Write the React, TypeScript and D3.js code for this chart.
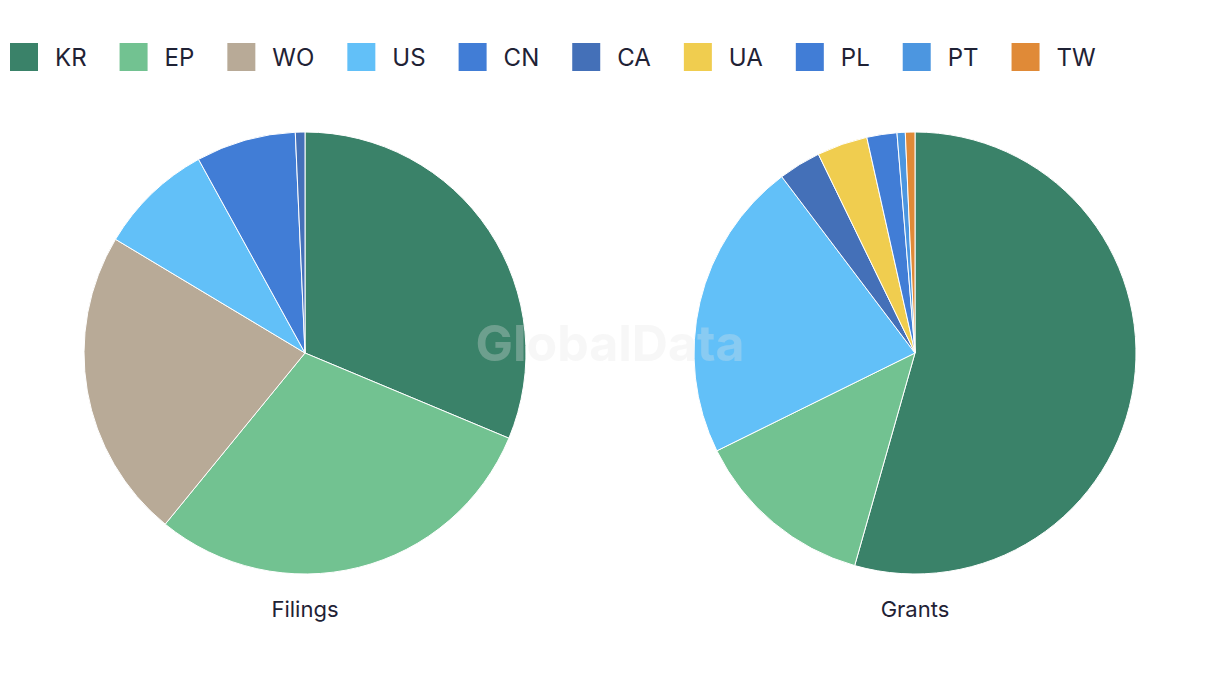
import React, { useEffect, useRef } from "react";
import * as d3 from "d3";

const legendCodes = ["KR", "EP", "WO", "US", "CN", "CA", "UA", "PL", "PT", "TW"];
const legendColors = ["#3a8269", "#72c291", "#b8aa97", "#62c0f8", "#417dd6", "#4470b8", "#f0cd4f", "#417dd6", "#4c96e0", "#e08a37"];

const filingsCodes = ["KR", "EP", "WO", "US", "CN", "CA"];
const filingsValues = [31.3, 29.6, 22.7, 8.4, 7.3, 0.7];

const grantsCodes = ["KR", "EP", "US", "CA", "UA", "PL", "PT", "TW"];
const grantsValues = [54.4, 13.3, 22.0, 3.1, 3.7, 2.2, 0.6, 0.7];

const pieTitles = ["Filings", "Grants"];

export default function App() {
  const ref = useRef<SVGSVGElement>(null);

  useEffect(() => {
    const svg = d3.select(ref.current);
    svg.selectAll("*").remove();
    const color = d3.scaleOrdinal<string, string>().domain(legendCodes).range(legendColors);
    const font = "Inter, Roboto, 'Noto Sans', sans-serif";
    const textColor = "#1f2235";

    // Legend
    const lg = svg.append("g");
    let x = 10;
    legendCodes.forEach((c) => {
      lg.append("rect").attr("x", x).attr("y", 43).attr("width", 28).attr("height", 28).attr("fill", color(c));
      const t = lg.append("text")
        .attr("x", x + 45).attr("y", 66)
        .attr("font-family", font).attr("font-size", 24).attr("fill", textColor)
        .text(c);
      const w = (t.node() as SVGTextElement).getComputedTextLength();
      x = x + 45 + w + 33;
    });

    const radius = 221;
    const pie = d3.pie<number>().sort(null).value((d) => d);
    const arc = d3.arc<d3.PieArcDatum<number>>().innerRadius(0).outerRadius(radius);

    const datasets = [
      { codes: filingsCodes, values: filingsValues, cx: 305 },
      { codes: grantsCodes, values: grantsValues, cx: 915 },
    ];

    datasets.forEach((ds, i) => {
      const g = svg.append("g").attr("transform", `translate(${ds.cx},353)`);
      g.selectAll("path")
        .data(pie(ds.values))
        .enter()
        .append("path")
        .attr("d", arc as any)
        .attr("fill", (_d, j) => color(ds.codes[j]))
        .attr("stroke", "#ffffff")
        .attr("stroke-width", 1);
      svg.append("text")
        .attr("x", ds.cx).attr("y", 617)
        .attr("text-anchor", "middle")
        .attr("font-family", font).attr("font-size", 22).attr("fill", textColor)
        .text(pieTitles[i]);
    });

    svg.append("text")
      .attr("x", 610).attr("y", 361)
      .attr("text-anchor", "middle")
      .attr("font-family", font).attr("font-size", 50).attr("font-weight", 700)
      .attr("fill", "#e6e6e6").attr("fill-opacity", 0.3)
      .text("GlobalData");
  }, []);

  return (
    <svg ref={ref} width={1220} height={686} style={{ position: "absolute", left: 0, top: 0, background: "#fff" }} />
  );
}
